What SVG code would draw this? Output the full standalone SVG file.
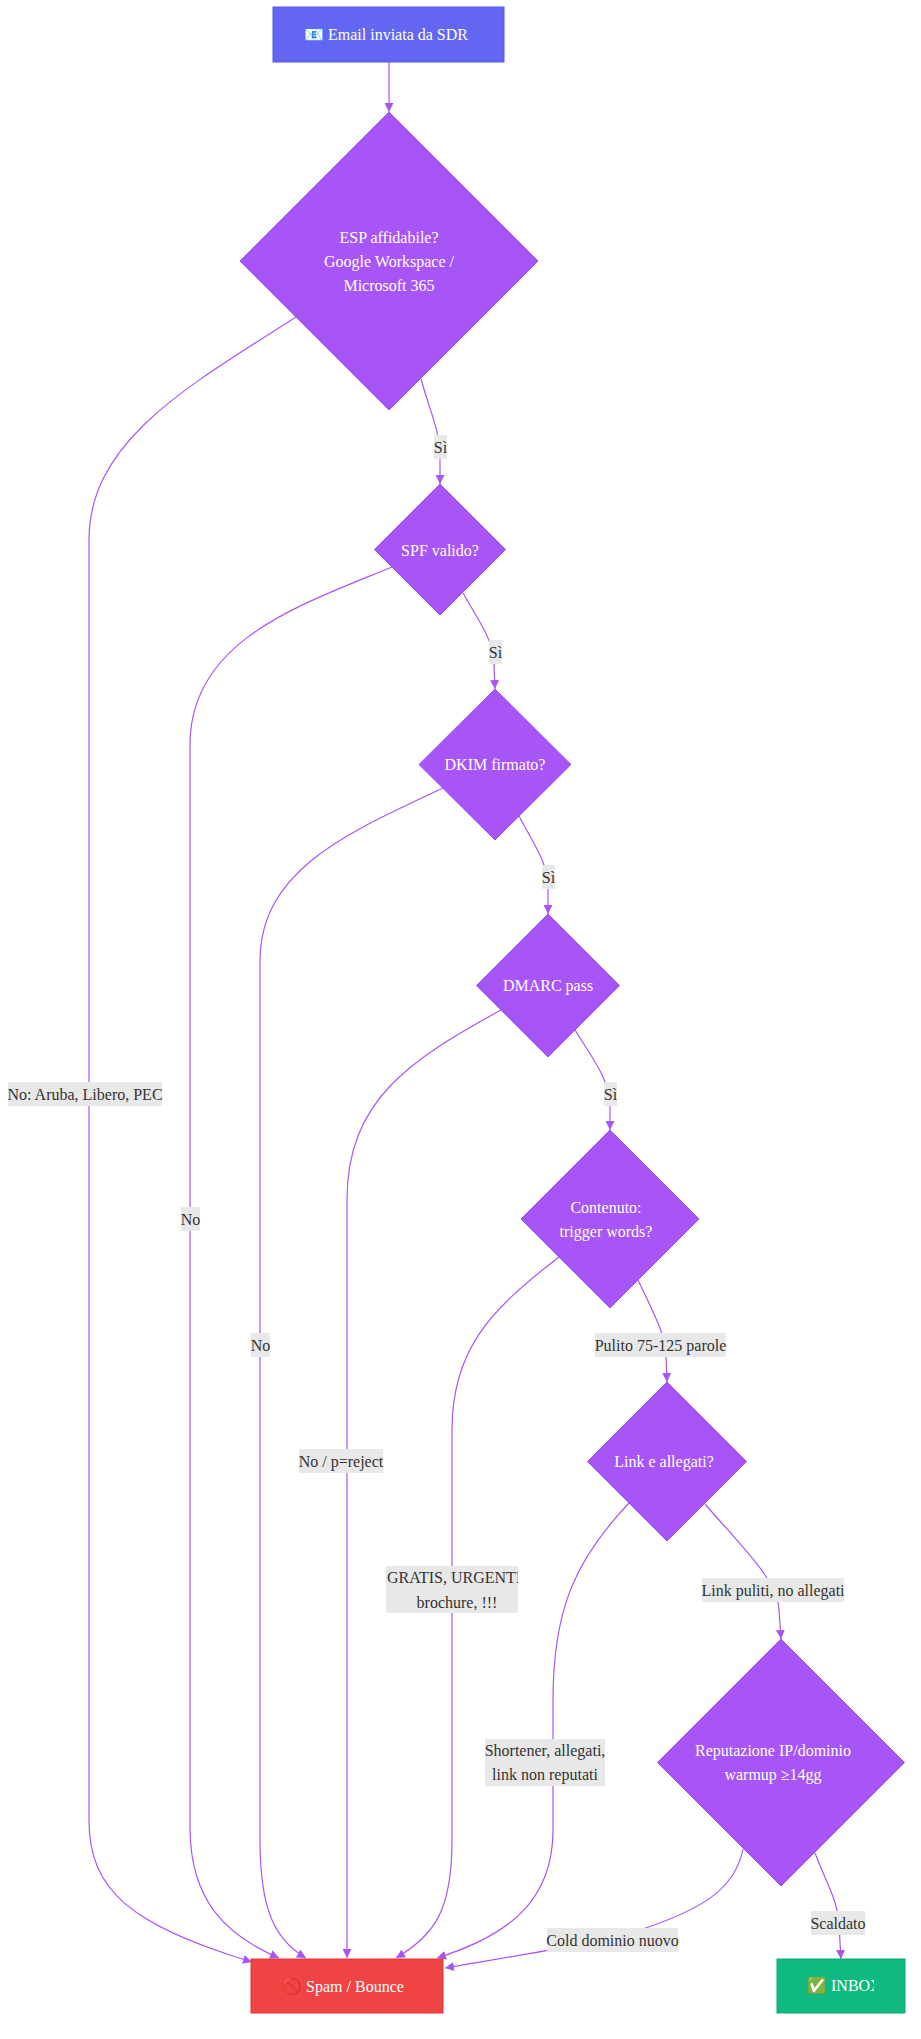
<svg xmlns="http://www.w3.org/2000/svg" width="921" height="2039" viewBox="0 0 921 2039">
<style>
.t{font-family:"Liberation Serif","Times New Roman",serif;font-size:16px}
.nt{fill:#ffffff;text-anchor:middle}
.lt{fill:#333333;text-anchor:middle}
.edge{fill:none;stroke:#a855f7;stroke-width:1.2;marker-end:url(#arrow)}
.lbg{fill:#e8e8e8}
.dia{fill:#a855f7;stroke:#9b4ff0;stroke-width:1}
</style>
<defs>
<marker id="arrow" viewBox="0 0 10 10" refX="10" refY="5" markerWidth="9" markerHeight="9" markerUnits="userSpaceOnUse" orient="auto">
<path d="M0,0 L10,5 L0,10 z" fill="#a855f7"/>
</marker>
<clipPath id="clipInbox"><rect x="777" y="1966" width="97" height="34"/></clipPath>
<clipPath id="clipGratis"><rect x="386" y="1566" width="132" height="47"/></clipPath>
</defs>
<rect x="0" y="0" width="921" height="2039" fill="#ffffff"/>
<g id="connectors">
<path class="edge" d="M389,62 L389,112"/>
<path class="edge" d="M421,379 C432,418 440,430 440,460 L440,484"/>
<path class="edge" d="M463,593 C478,620 494,640 494,665 L495,689"/>
<path class="edge" d="M519,816 C533,843 548,862 548,888 L548,914"/>
<path class="edge" d="M575,1030 C592,1058 609,1078 610,1105 L610,1130"/>
<path class="edge" d="M638,1280 C652,1310 666,1335 666,1356 L667,1382"/>
<path class="edge" d="M705,1504 C740,1545 778,1580 779,1610 L781,1639"/>
<path class="edge" d="M815,1853 C825,1880 838,1900 839,1925 L841,1959"/>
<path class="edge" d="M743,1849 C735,1890 700,1910 640,1930 C600,1943 520,1955 445,1968"/>
<path class="edge" d="M296,317 C190,385 89,440 89,540 L89,1820 C89,1890 130,1925 252,1962"/>
<path class="edge" d="M392,567 C300,605 190,640 190,745 L190,1830 C191,1900 225,1935 279,1958"/>
<path class="edge" d="M443,788 C350,832 261,868 260,960 L260,1840 C260,1910 275,1940 306,1958"/>
<path class="edge" d="M501,1010 C410,1060 347,1100 347,1200 L347,1958"/>
<path class="edge" d="M559,1257 C490,1310 452,1350 452,1430 L452,1840 C452,1910 435,1935 396,1958"/>
<path class="edge" d="M629,1503 C575,1560 553,1610 553,1700 L553,1830 C553,1900 510,1935 437,1958"/>
</g>
<g id="edge-labels" class="t">
<rect class="lbg" x="434" y="435" width="13" height="24"/><text class="lt" x="440.5" y="447" dy="0.35em">Sì</text>
<rect class="lbg" x="489" y="640" width="13" height="24"/><text class="lt" x="495.5" y="652" dy="0.35em">Sì</text>
<rect class="lbg" x="542" y="865" width="13" height="24"/><text class="lt" x="548.5" y="877" dy="0.35em">Sì</text>
<rect class="lbg" x="604" y="1082" width="13" height="24"/><text class="lt" x="610.5" y="1094" dy="0.35em">Sì</text>
<rect class="lbg" x="595" y="1333" width="131" height="24"/><text class="lt" x="660.5" y="1345" dy="0.35em">Pulito 75-125 parole</text>
<rect class="lbg" x="702" y="1578" width="142" height="24"/><text class="lt" x="773" y="1590" dy="0.35em">Link puliti, no allegati</text>
<rect class="lbg" x="811" y="1911" width="54" height="24"/><text class="lt" x="838" y="1923" dy="0.35em">Scaldato</text>
<rect class="lbg" x="547" y="1928" width="131" height="24"/><text class="lt" x="612.5" y="1940" dy="0.35em">Cold dominio nuovo</text>
<rect class="lbg" x="8" y="1082" width="154" height="24"/><text class="lt" x="85" y="1094" dy="0.35em">No: Aruba, Libero, PEC</text>
<rect class="lbg" x="181" y="1207" width="19" height="24"/><text class="lt" x="190.5" y="1219" dy="0.35em">No</text>
<rect class="lbg" x="251" y="1333" width="19" height="24"/><text class="lt" x="260.5" y="1345" dy="0.35em">No</text>
<rect class="lbg" x="299" y="1449" width="84" height="24"/><text class="lt" x="341" y="1461" dy="0.35em">No / p=reject</text>
<g clip-path="url(#clipGratis)">
<rect class="lbg" x="386" y="1566" width="132" height="47"/>
<text x="387" y="1577" dy="0.35em" fill="#333333">GRATIS, URGENTE,</text>
<text class="lt" x="457" y="1602" dy="0.35em">brochure, !!!</text>
</g>
<rect class="lbg" x="485" y="1739" width="120" height="47"/>
<text class="lt" x="545" y="1750" dy="0.35em">Shortener, allegati,</text>
<text class="lt" x="545" y="1774" dy="0.35em">link non reputati</text>
</g>
<g id="start" class="t">
<rect x="273" y="7" width="231" height="55" fill="#6366f1" stroke="#5558e8" stroke-width="1"/>
<text class="nt" x="386" y="34" dy="0.35em">📧 Email inviata da SDR</text>
</g>
<g id="esp" class="t">
<polygon class="dia" points="389,112 538,261 389,410 240,261"/>
<text class="nt" x="389" y="237" dy="0.35em">ESP affidabile?</text>
<text class="nt" x="389" y="261" dy="0.35em">Google Workspace /</text>
<text class="nt" x="389" y="285" dy="0.35em">Microsoft 365</text>
</g>
<g id="spf" class="t">
<polygon class="dia" points="440,484 505.5,549.5 440,615 374.5,549.5"/>
<text class="nt" x="440" y="550" dy="0.35em">SPF valido?</text>
</g>
<g id="dkim" class="t">
<polygon class="dia" points="495,689 571,764.5 495,840 419,764.5"/>
<text class="nt" x="495" y="764" dy="0.35em">DKIM firmato?</text>
</g>
<g id="dmarc" class="t">
<polygon class="dia" points="548,914 619.5,985.5 548,1057 476.5,985.5"/>
<text class="nt" x="548" y="985" dy="0.35em">DMARC pass</text>
</g>
<g id="contenuto" class="t">
<polygon class="dia" points="610,1130 699,1219 610,1308 521,1219"/>
<text class="nt" x="606" y="1207" dy="0.35em">Contenuto:</text>
<text class="nt" x="606" y="1231" dy="0.35em">trigger words?</text>
</g>
<g id="link" class="t">
<polygon class="dia" points="667,1382 746.5,1461.5 667,1541 587.5,1461.5"/>
<text class="nt" x="664" y="1461" dy="0.35em">Link e allegati?</text>
</g>
<g id="reputazione" class="t">
<polygon class="dia" points="781,1639 904.5,1762.5 781,1886 657.5,1762.5"/>
<text class="nt" x="773" y="1750" dy="0.35em">Reputazione IP/dominio</text>
<text class="nt" x="773" y="1774" dy="0.35em">warmup ≥14gg</text>
</g>
<g id="spam" class="t">
<rect x="251" y="1959" width="192" height="54" fill="#ef4444" stroke="#e03535" stroke-width="1"/>
<text class="nt" x="343" y="1986" dy="0.35em">🚫 Spam / Bounce</text>
</g>
<g id="inbox" class="t">
<rect x="777" y="1959" width="128" height="54" fill="#10b981" stroke="#0ea874" stroke-width="1"/>
<g clip-path="url(#clipInbox)">
<text x="807" y="1985" dy="0.35em" fill="#ffffff">✅ INBOX</text>
</g>
</g>
</svg>
